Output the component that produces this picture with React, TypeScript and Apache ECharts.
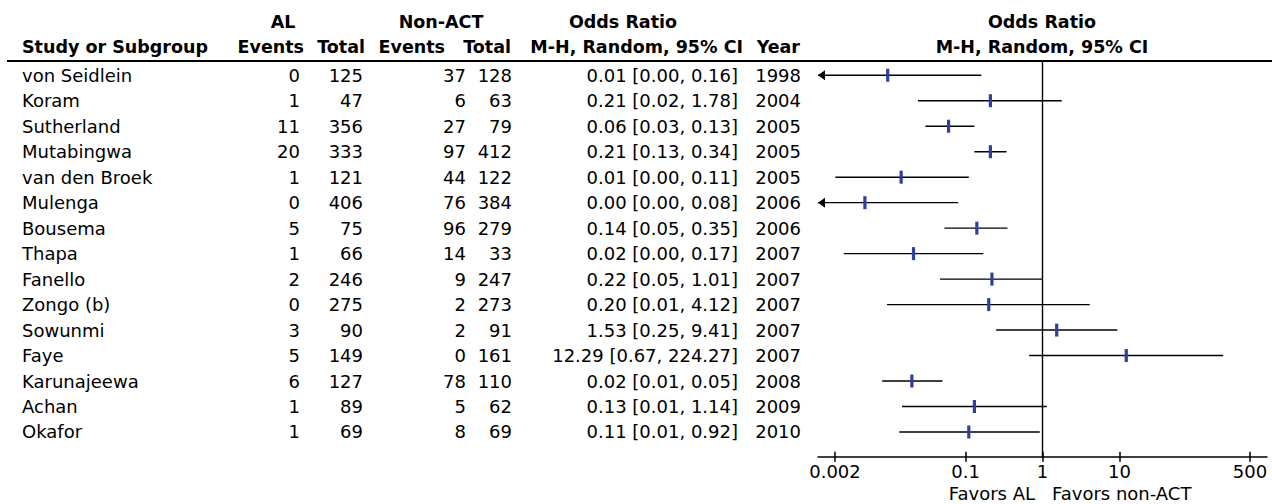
import React, { useEffect, useRef } from "react";
import * as echarts from "echarts";

// Study rows
const studies = [
  "von Seidlein", "Koram", "Sutherland", "Mutabingwa", "van den Broek",
  "Mulenga", "Bousema", "Thapa", "Fanello", "Zongo (b)",
  "Sowunmi", "Faye", "Karunajeewa", "Achan", "Okafor",
];
const alEvents = [0, 1, 11, 20, 1, 0, 5, 1, 2, 0, 3, 5, 6, 1, 1];
const alTotal = [125, 47, 356, 333, 121, 406, 75, 66, 246, 275, 90, 149, 127, 89, 69];
const nonActEvents = [37, 6, 27, 97, 44, 76, 96, 14, 9, 2, 2, 0, 78, 5, 8];
const nonActTotal = [128, 63, 79, 412, 122, 384, 279, 33, 247, 273, 91, 161, 110, 62, 69];
const orPoint = [0.0097, 0.21, 0.06, 0.21, 0.0145, 0.0049, 0.14, 0.021, 0.22, 0.2, 1.53, 12.29, 0.02, 0.13, 0.11];
const orLower = [0.0006, 0.024, 0.03, 0.13, 0.00202, 0.0003, 0.053, 0.0026, 0.0465, 0.0095, 0.25, 0.67, 0.0082, 0.0149, 0.0137];
const orUpper = [0.16, 1.78, 0.13, 0.34, 0.11, 0.08, 0.35, 0.17, 1.01, 4.12, 9.41, 224.27, 0.05, 1.14, 0.92];
const years = [1998, 2004, 2005, 2005, 2005, 2006, 2006, 2007, 2007, 2007, 2007, 2007, 2008, 2009, 2010];

// Forest-plot axis ticks (odds ratio, log scale)
const tickValues = [0.002, 0.1, 1, 10, 500];
const tickLabels = ["0.002", "0.1", "1", "10", "500"];

const FONT = "DejaVu Sans";
const FS = 18;
const FS_BOLD = 17.5;
const MARK_BLUE = "#2e3f9f";

const LOG_MIN = -2.92;
const LOG_MAX = 2.92;
const ROW_MIN = -0.56;
const ROW_MAX = 14.97;
const GRID_TOP = 61;
const GRID_BOTTOM = 47.3;

const fmt = (v: number) => v.toFixed(2);
const ciText = orPoint.map((p, i) => `${fmt(p)} [${fmt(orLower[i])}, ${fmt(orUpper[i])}]`);

// Table columns: anchor x (px on the table axis) and alignment
const columns: { x: number; align: string; values: (string | number)[] }[] = [
  { x: 22, align: "left", values: studies },
  { x: 300, align: "right", values: alEvents },
  { x: 363, align: "right", values: alTotal },
  { x: 466, align: "right", values: nonActEvents },
  { x: 512, align: "right", values: nonActTotal },
  { x: 738, align: "right", values: ciText },
  { x: 801, align: "right", values: years },
];

const headers: { text: string; x: number; y: number; align: string }[] = [
  { text: "AL", x: 283, y: 22, align: "center" },
  { text: "Non-ACT", x: 441, y: 22, align: "center" },
  { text: "Odds Ratio", x: 623, y: 22, align: "center" },
  { text: "Odds Ratio", x: 1042, y: 22, align: "center" },
  { text: "Study or Subgroup", x: 22, y: 47, align: "left" },
  { text: "Events", x: 304, y: 47, align: "right" },
  { text: "Total", x: 365, y: 47, align: "right" },
  { text: "Events", x: 445, y: 47, align: "right" },
  { text: "Total", x: 511, y: 47, align: "right" },
  { text: "M-H, Random, 95% CI", x: 743, y: 47, align: "right" },
  { text: "Year", x: 800, y: 47, align: "right" },
  { text: "M-H, Random, 95% CI", x: 1042, y: 47, align: "center" },
];

export default function App() {
  const ref = useRef<HTMLDivElement>(null);

  useEffect(() => {
    if (!ref.current) return;
    const chart = echarts.init(ref.current, null, { renderer: "svg" });
    const logTicks = tickValues.map((v) => Math.log10(v));
    const tickLabel = (v: number) => {
      let best = 0;
      logTicks.forEach((t, i) => {
        if (Math.abs(t - v) < Math.abs(logTicks[best] - v)) best = i;
      });
      return tickLabels[best];
    };

    const forestData = studies.map((_, i) => [
      Math.log10(orLower[i]),
      Math.log10(orUpper[i]),
      Math.log10(orPoint[i]),
      i,
    ]);
    const tableData = studies.map((_, i) => [0, i]);

    const graphic: any[] = headers.map((h) => ({
      type: "text",
      x: h.x,
      y: h.y,
      style: {
        text: h.text,
        align: h.align,
        verticalAlign: "middle",
        fontFamily: FONT,
        fontSize: FS_BOLD,
        fontWeight: "bold",
        fill: "#000",
      },
    }));
    graphic.push({
      type: "line",
      shape: { x1: 7, y1: GRID_TOP, x2: 1272, y2: GRID_TOP },
      style: { stroke: "#000", lineWidth: 2 },
    });
    graphic.push({
      type: "text",
      x: 1035,
      y: 493,
      style: { text: "Favors AL", align: "right", verticalAlign: "middle", fontFamily: FONT, fontSize: FS, fill: "#000" },
    });
    graphic.push({
      type: "text",
      x: 1052,
      y: 493,
      style: { text: "Favors non-ACT", align: "left", verticalAlign: "middle", fontFamily: FONT, fontSize: FS, fill: "#000" },
    });

    const tickStyle = { color: "#000", width: 1.5 };

    chart.setOption({
      animation: false,
      grid: [
        { left: 818, right: 5, top: GRID_TOP, bottom: GRID_BOTTOM },
        { left: 0, right: 0, top: GRID_TOP, bottom: GRID_BOTTOM },
      ],
      xAxis: [
        {
          type: "value",
          gridIndex: 0,
          position: "bottom",
          min: LOG_MIN,
          max: LOG_MAX,
          splitLine: { show: false },
          axisLine: { show: true, onZero: false, lineStyle: tickStyle },
          axisTick: { show: true, customValues: logTicks, length: 5, lineStyle: tickStyle },
          axisLabel: {
            customValues: logTicks,
            formatter: (v: number) => tickLabel(v),
            color: "#000",
            fontFamily: FONT,
            fontSize: FS,
            margin: 6,
          },
        },
        {
          // upper half of the crossing tick marks
          type: "value",
          gridIndex: 0,
          position: "bottom",
          min: LOG_MIN,
          max: LOG_MAX,
          splitLine: { show: false },
          axisLine: { show: false, onZero: false },
          axisTick: { show: true, inside: true, customValues: logTicks, length: 5, lineStyle: tickStyle },
          axisLabel: { show: false },
        },
        { type: "value", gridIndex: 1, min: 0, max: 1272, show: false },
      ],
      yAxis: [
        { type: "value", gridIndex: 0, inverse: true, min: ROW_MIN, max: ROW_MAX, show: false },
        { type: "value", gridIndex: 1, inverse: true, min: ROW_MIN, max: ROW_MAX, show: false },
      ],
      series: [
        {
          type: "custom",
          name: "table",
          xAxisIndex: 2,
          yAxisIndex: 1,
          data: tableData,
          encode: { x: 0, y: 1 },
          renderItem: (params: any, api: any) => {
            const row = api.value(1);
            const children = columns.map((c) => {
              const p = api.coord([c.x, row]);
              return {
                type: "text",
                x: p[0],
                y: p[1],
                style: {
                  text: String(c.values[row]),
                  align: c.align,
                  verticalAlign: "middle",
                  fontFamily: FONT,
                  fontSize: FS,
                  fill: "#000",
                },
              };
            });
            return { type: "group", children };
          },
        },
        {
          type: "custom",
          name: "Odds Ratio",
          xAxisIndex: 0,
          yAxisIndex: 0,
          data: forestData,
          encode: { x: [0, 1, 2], y: 3 },
          renderItem: (params: any, api: any) => {
            const lo = api.value(0);
            const hi = api.value(1);
            const pt = api.value(2);
            const row = api.value(3);
            const cs = params.coordSys;
            const left = cs.x;
            const right = cs.x + cs.width;
            const pLo = api.coord([lo, row]);
            const pHi = api.coord([hi, row]);
            const pPt = api.coord([pt, row]);
            const y = pPt[1];
            const x1 = Math.max(pLo[0], left);
            const x2 = Math.min(pHi[0], right);
            const children: any[] = [
              {
                type: "line",
                shape: { x1, y1: y, x2, y2: y },
                style: { stroke: "#000", lineWidth: 1.4 },
              },
            ];
            if (pLo[0] < left) {
              children.push({
                type: "polygon",
                shape: { points: [[left, y], [left + 7, y - 5], [left + 7, y + 5]] },
                style: { fill: "#000" },
              });
            }
            children.push({
              type: "rect",
              shape: { x: pPt[0] - 1.6, y: y - 6.5, width: 3.2, height: 13 },
              style: { fill: MARK_BLUE },
            });
            return { type: "group", children };
          },
          markLine: {
            silent: true,
            symbol: "none",
            label: { show: false },
            lineStyle: { color: "#000", width: 1.4, type: "solid" },
            data: [{ xAxis: 0 }],
          },
          z: 3,
        },
      ],
      graphic,
    });

    return () => chart.dispose();
  }, []);

  return (
    <div
      ref={ref}
      style={{ position: "absolute", left: 0, top: 0, width: 1272, height: 504, background: "#fff" }}
    />
  );
}
